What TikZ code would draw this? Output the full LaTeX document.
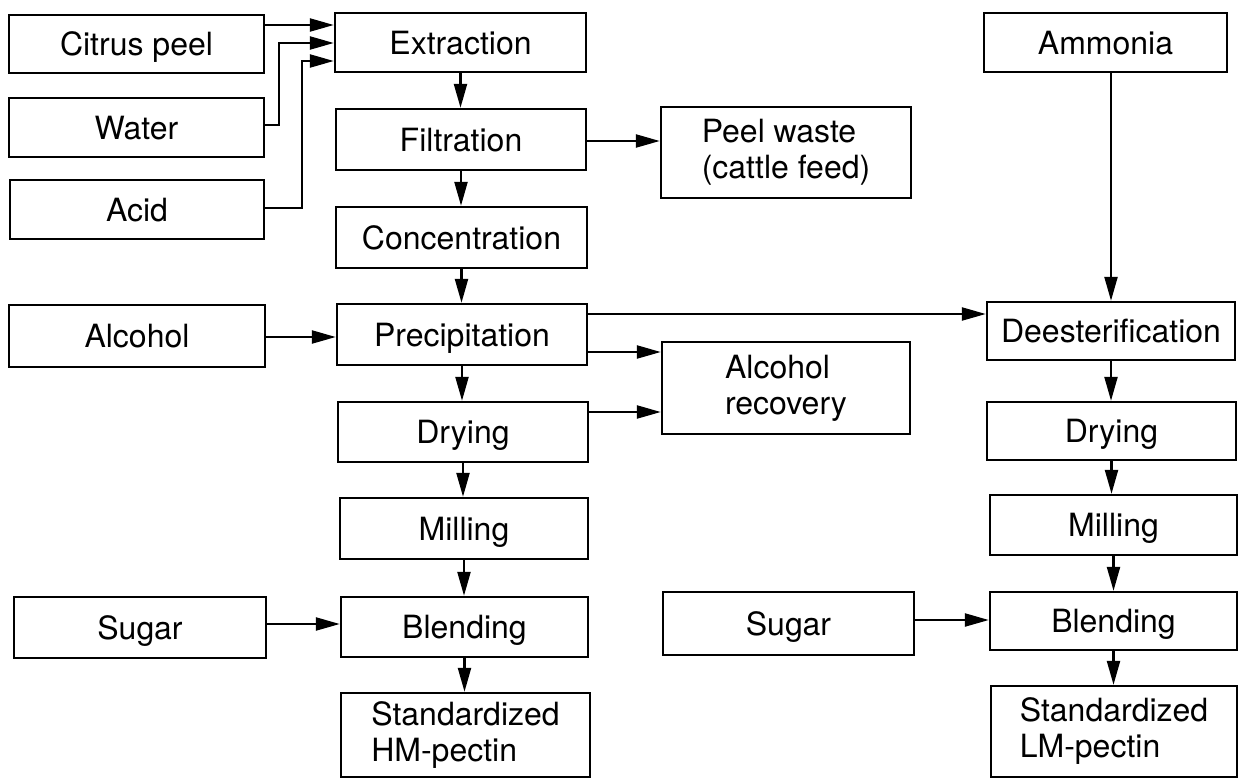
\documentclass[tikz,border=0pt]{standalone}
\usepackage{fontspec}
\setmainfont{TeX Gyre Heros}
\usetikzlibrary{arrows.meta}
\begin{document}
\begin{tikzpicture}[x=1pt,y=-1pt,
  box/.style={draw, line width=2.4pt, inner sep=0pt, font=\fontsize{32}{36}\selectfont},
  one/.style={text height=23pt, text depth=0pt},
  two/.style={align=left},
  arr/.style={line width=2.3pt, -{Triangle[length=24pt,width=13pt]}}]
\useasboundingbox (0,0) rectangle (1239,779);
% left inputs
\node[box,one,minimum width=255pt,minimum height=58pt] (cit) at (136.5,44) {Citrus peel};
\node[box,one,minimum width=255pt,minimum height=59pt] (wat) at (136.5,127.5) {Water};
\node[box,one,minimum width=254pt,minimum height=59pt] (acid) at (137,209.5) {Acid};
\node[box,one,minimum width=256pt,minimum height=62pt] (alc) at (137,336) {Alcohol};
\node[box,one,minimum width=252pt,minimum height=61pt] (sugar) at (140,627.5) {Sugar};
% main column
\node[box,one,minimum width=251pt,minimum height=59pt] (ext) at (460.5,42.5) {Extraction};
\node[box,one,minimum width=250pt,minimum height=61pt] (fil) at (461,139.5) {Filtration};
\node[box,one,minimum width=251pt,minimum height=61pt] (conc) at (461.5,237.5) {Concentration};
\node[box,one,minimum width=250pt,minimum height=61pt] (prec) at (462,334.5) {Precipitation};
\node[box,one,minimum width=250pt,minimum height=60pt] (dry) at (463,432) {Drying};
\node[box,one,minimum width=248pt,minimum height=61pt] (mill) at (464,528.5) {Milling};
\node[box,one,minimum width=247pt,minimum height=60pt] (blend) at (464.5,627) {Blending};
\node[box,two,minimum width=249pt,minimum height=84pt] (hm) at (465.5,735) {Standardized\\HM-pectin};
% middle column
\node[box,two,minimum width=250pt,minimum height=91pt] (peel) at (786,152.5) {Peel waste\\(cattle feed)};
\node[box,two,minimum width=248pt,minimum height=92pt] (arec) at (786,388) {Alcohol\\recovery};
\node[box,one,minimum width=251pt,minimum height=63pt] (sugar2) at (788.5,623.5) {Sugar};
% right column
\node[box,one,minimum width=243pt,minimum height=59pt] (amm) at (1105.5,42.5) {Ammonia};
\node[box,one,minimum width=248pt,minimum height=58pt] (deest) at (1111,331) {Deesterification};
\node[box,one,minimum width=249pt,minimum height=58pt] (dry2) at (1111.5,431) {Drying};
\node[box,one,minimum width=247pt,minimum height=60pt] (mill2) at (1113.5,525) {Milling};
\node[box,one,minimum width=247pt,minimum height=58pt] (blend2) at (1113.5,621) {Blending};
\node[box,two,minimum width=246pt,minimum height=91pt] (lm) at (1114,731.5) {Standardized\\LM-pectin};
% helper coordinates
\coordinate (y25) at (0,25);
\coordinate (y43) at (0,43);
\coordinate (y61) at (0,61);
\coordinate (y125) at (0,125);
\coordinate (y208) at (0,208);
\coordinate (y141) at (0,141);
\coordinate (y337) at (0,337);
\coordinate (y314) at (0,314);
\coordinate (y352) at (0,352);
\coordinate (y412) at (0,412);
\coordinate (y624) at (0,624);
\coordinate (y620) at (0,620);
\coordinate (wb1) at (279,125);
\coordinate (wb2) at (279,43);
\coordinate (ab1) at (302,208);
\coordinate (ab2) at (302,61);
% inputs to extraction
\draw[arr] (cit.east |- y25) -- (ext.west |- y25);
\draw[arr] (wat.east |- y125) -- (wb1) -- (wb2) -- (ext.west |- y43);
\draw[arr] (acid.east |- y208) -- (ab1) -- (ab2) -- (ext.west |- y61);
% main chain
\draw[arr] (ext.south) -- (ext.south |- fil.north);
\draw[arr] (fil.south) -- (fil.south |- conc.north);
\draw[arr] (conc.south) -- (conc.south |- prec.north);
\draw[arr] (prec.south) -- (prec.south |- dry.north);
\draw[arr] (dry.south) -- (dry.south |- mill.north);
\draw[arr] (mill.south) -- (mill.south |- blend.north);
\draw[arr] (blend.south) -- (blend.south |- hm.north);
% side arrows
\draw[arr] (fil.east |- y141) -- (peel.west |- y141);
\draw[arr] (alc.east |- y337) -- (prec.west |- y337);
\draw[arr] (prec.east |- y314) -- (deest.west |- y314);
\draw[arr] (prec.east |- y352) -- (arec.west |- y352);
\draw[arr] (dry.east |- y412) -- (arec.west |- y412);
\draw[arr] (sugar.east |- y624) -- (blend.west |- y624);
\draw[arr] (sugar2.east |- y620) -- (blend2.west |- y620);
% right chain
\draw[arr] (deest.north |- amm.south) -- (deest.north);
\draw[arr] (deest.south) -- (deest.south |- dry2.north);
\draw[arr] (dry2.south) -- (dry2.south |- mill2.north);
\draw[arr] (mill2.south) -- (mill2.south |- blend2.north);
\draw[arr] (blend2.south) -- (blend2.south |- lm.north);
\end{tikzpicture}
\end{document}
